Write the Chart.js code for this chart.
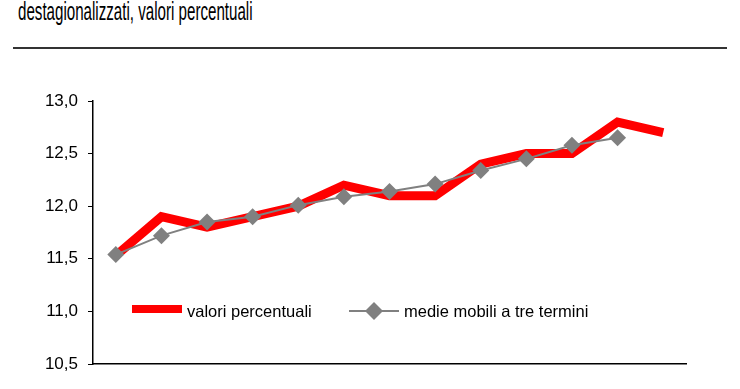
<!DOCTYPE html>
<html>
<head>
<meta charset="utf-8">
<script src="https://cdn.jsdelivr.net/npm/chart.js@4/dist/chart.umd.min.js"></script>
<style>
  html, body { margin: 0; padding: 0; background: #fff; }
  body { width: 740px; height: 389px; position: relative; overflow: hidden; }
  #title {
    position: absolute; left: 18px; top: -3px;
    font-family: "Liberation Sans", Arial, sans-serif;
    font-size: 25px; color: #000; white-space: nowrap;
    transform: scaleX(0.605); transform-origin: left top;
  }
  #rule { position: absolute; left: 13px; top: 47px; width: 714px; height: 2px; background: #333; }
  #wrap { position: absolute; left: 0; top: 0; width: 740px; height: 389px; }
</style>
</head>
<body>
<div id="title">destagionalizzati, valori percentuali</div>
<div id="rule"></div>
<div id="wrap"><canvas id="chart"></canvas></div>
<script>
const FONT = '"Liberation Sans", Arial, sans-serif';

// one point per period, x-axis labels are not shown in the picture
const periods = ['1','2','3','4','5','6','7','8','9','10','11','12','13'];
const valoriPercentuali = [11.53, 11.9, 11.8, 11.9, 12.0, 12.2, 12.1, 12.1, 12.4, 12.5, 12.5, 12.8, 12.7];
const medieMobili = [11.54, 11.72, 11.85, 11.9, 12.01, 12.09, 12.14, 12.21, 12.34, 12.45, 12.58, 12.65, null];
const yTicks = [10.5, 11.0, 11.5, 12.0, 12.5, 13.0];

const legendPlugin = {
    id: 'insideLegend',
    afterDraw(chart) {
        const ctx = chart.ctx;
        ctx.save();
        ctx.font = '16.5px ' + FONT;
        ctx.textBaseline = 'middle';
        // red series
        ctx.fillStyle = '#ff0000';
        ctx.fillRect(132, 305, 50, 8);
        ctx.fillStyle = '#000';
        ctx.fillText('valori percentuali', 187, 312);
        // gray series
        ctx.strokeStyle = '#808080';
        ctx.lineWidth = 2;
        ctx.beginPath();
        ctx.moveTo(349, 311);
        ctx.lineTo(399, 311);
        ctx.stroke();
        ctx.fillStyle = '#808080';
        ctx.beginPath();
        ctx.moveTo(374, 302);
        ctx.lineTo(383, 311);
        ctx.lineTo(374, 320);
        ctx.lineTo(365, 311);
        ctx.closePath();
        ctx.fill();
        ctx.fillStyle = '#000';
        ctx.fillText('medie mobili a tre termini', 404, 312);
        ctx.restore();
    }
};

const ctx = document.getElementById('chart').getContext('2d');
const chart = new Chart(ctx, {
    type: 'line',
    data: {
        labels: periods,
        datasets: [{
            label: 'valori percentuali',
            data: valoriPercentuali,
            borderColor: '#ff0000',
            backgroundColor: '#ff0000',
            borderWidth: 9,
            pointRadius: 0,
            tension: 0,
            order: 2
        }, {
            label: 'medie mobili a tre termini',
            data: medieMobili,
            borderColor: '#808080',
            backgroundColor: '#808080',
            borderWidth: 2,
            pointStyle: 'rectRot',
            pointRadius: 8.5,
            pointBorderWidth: 0,
            tension: 0,
            order: 1
        }]
    },
    options: {
        responsive: true,
        maintainAspectRatio: false,
        animation: false,
        layout: { padding: { top: 101, right: 54, left: 0, bottom: 0 } },
        plugins: {
            legend: { display: false },
            tooltip: { enabled: false }
        },
        scales: {
            x: {
                offset: true,
                ticks: { display: false },
                grid: { display: false },
                border: { display: true, color: '#000', width: 1.5 },
                afterFit: function(scale) { scale.height = 25; }
            },
            y: {
                min: 10.5,
                max: 13.0,
                afterBuildTicks: function(scale) {
                    scale.ticks = yTicks.map(v => ({ value: v }));
                },
                ticks: {
                    color: '#000',
                    padding: 10,
                    font: { family: FONT, size: 17 },
                    callback: function(value) {
                        return value.toFixed(1).replace('.', ',');
                    }
                },
                grid: { drawOnChartArea: false, drawTicks: true, tickLength: 5, color: '#000' },
                border: { display: true, color: '#000', width: 1.5 },
                afterFit: function(scale) { scale.width = 93; }
            }
        }
    },
    plugins: [legendPlugin]
});
</script>
</body>
</html>
